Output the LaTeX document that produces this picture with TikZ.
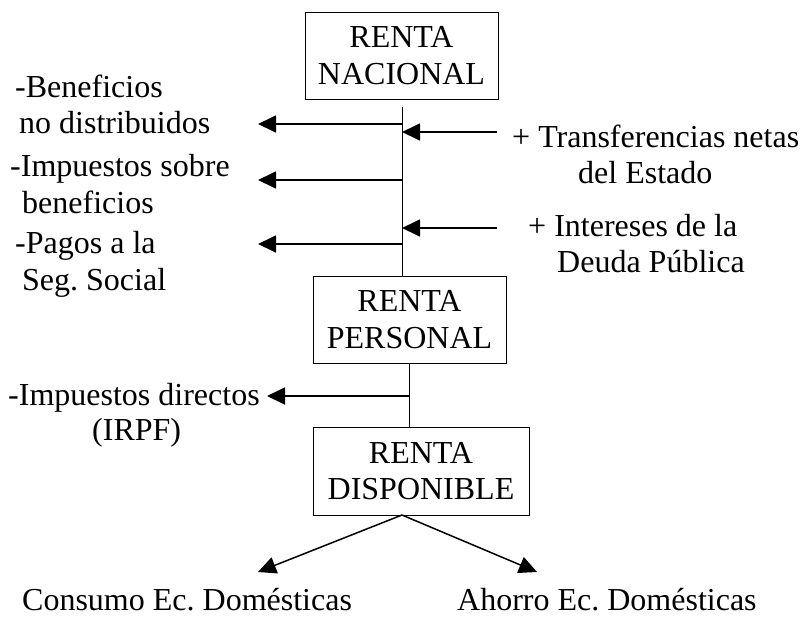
\documentclass[tikz,border=0pt]{standalone}
\usepackage{fontspec}
\setmainfont{Liberation Serif}
\usetikzlibrary{arrows.meta}
\frenchspacing
\begin{document}
\begin{tikzpicture}[x=1pt,y=-1pt,
  every node/.style={font=\fontsize{32}{36.5}\selectfont},
  box/.style={draw,line width=1pt,inner sep=0pt,align=center},
  lbl/.style={anchor=base west,inner sep=0pt},
  arr/.style={line width=1.8pt,-{Triangle[length=18pt,width=17pt]}},
  stem/.style={line width=1pt}]
\useasboundingbox (0,0) rectangle (804,619);
% boxes
\node[box,minimum width=193pt,minimum height=87pt] (nac) at (401.5,55.5) {RENTA\\NACIONAL};
\node[box,minimum width=193pt,minimum height=87pt] (per) at (409.5,319.5) {RENTA\\PERSONAL};
\node[box,minimum width=216pt,minimum height=88pt] (dis) at (421,471) {RENTA\\DISPONIBLE};
% labels
\node[lbl] (l1) at (15,97) {-Beneficios};
\node[lbl] (l2) at (19,133) {no distribuidos};
\node[lbl] (l3) at (10,176) {-Impuestos sobre};
\node[lbl] (l4) at (22,213) {beneficios};
\node[lbl] (l5) at (15,253) {-Pagos a la};
\node[lbl] (l6) at (22,290) {Seg. Social};
\node[lbl] (r1) at (512,147) {+ Transferencias netas};
\node[lbl] (r2) at (578,183) {del Estado};
\node[lbl] (r3) at (528,236) {+ Intereses de la};
\node[lbl] (r4) at (557,272) {Deuda Pública};
\node[lbl] (i1) at (8,405) {-Impuestos directos};
\node[lbl] (i2) at (92,440) {(IRPF)};
\node[lbl] (b1) at (22,610) {Consumo Ec. Domésticas};
\node[lbl] (b2) at (457,610) {Ahorro Ec. Domésticas};
% junction coordinates
\coordinate (top) at (402,107);
\coordinate (s1) at (402,124); \coordinate (e1) at (258,124);
\coordinate (s2) at (402,180); \coordinate (e2) at (258,180);
\coordinate (s3) at (402,244); \coordinate (e3) at (258,244);
\coordinate (t1) at (497,132); \coordinate (f1) at (402,132);
\coordinate (t2) at (497,228); \coordinate (f2) at (402,228);
\coordinate (p1) at (409,363);
\coordinate (s4) at (409,396); \coordinate (e4) at (267,396);
\coordinate (d0) at (402,515);
\coordinate (c1) at (258,572); \coordinate (c2) at (537,572);
% stems
\draw[stem] (top) -- (top |- per.north);
\draw[stem] (p1) -- (p1 |- dis.north);
% arrows
\draw[arr] (s1) -- (e1);
\draw[arr] (s2) -- (e2);
\draw[arr] (s3) -- (e3);
\draw[arr] (t1) -- (f1);
\draw[arr] (t2) -- (f2);
\draw[arr] (s4) -- (e4);
\draw[arr,line width=1.5pt] (d0) -- (c1);
\draw[arr,line width=1.5pt] (d0) -- (c2);
\end{tikzpicture}
\end{document}
